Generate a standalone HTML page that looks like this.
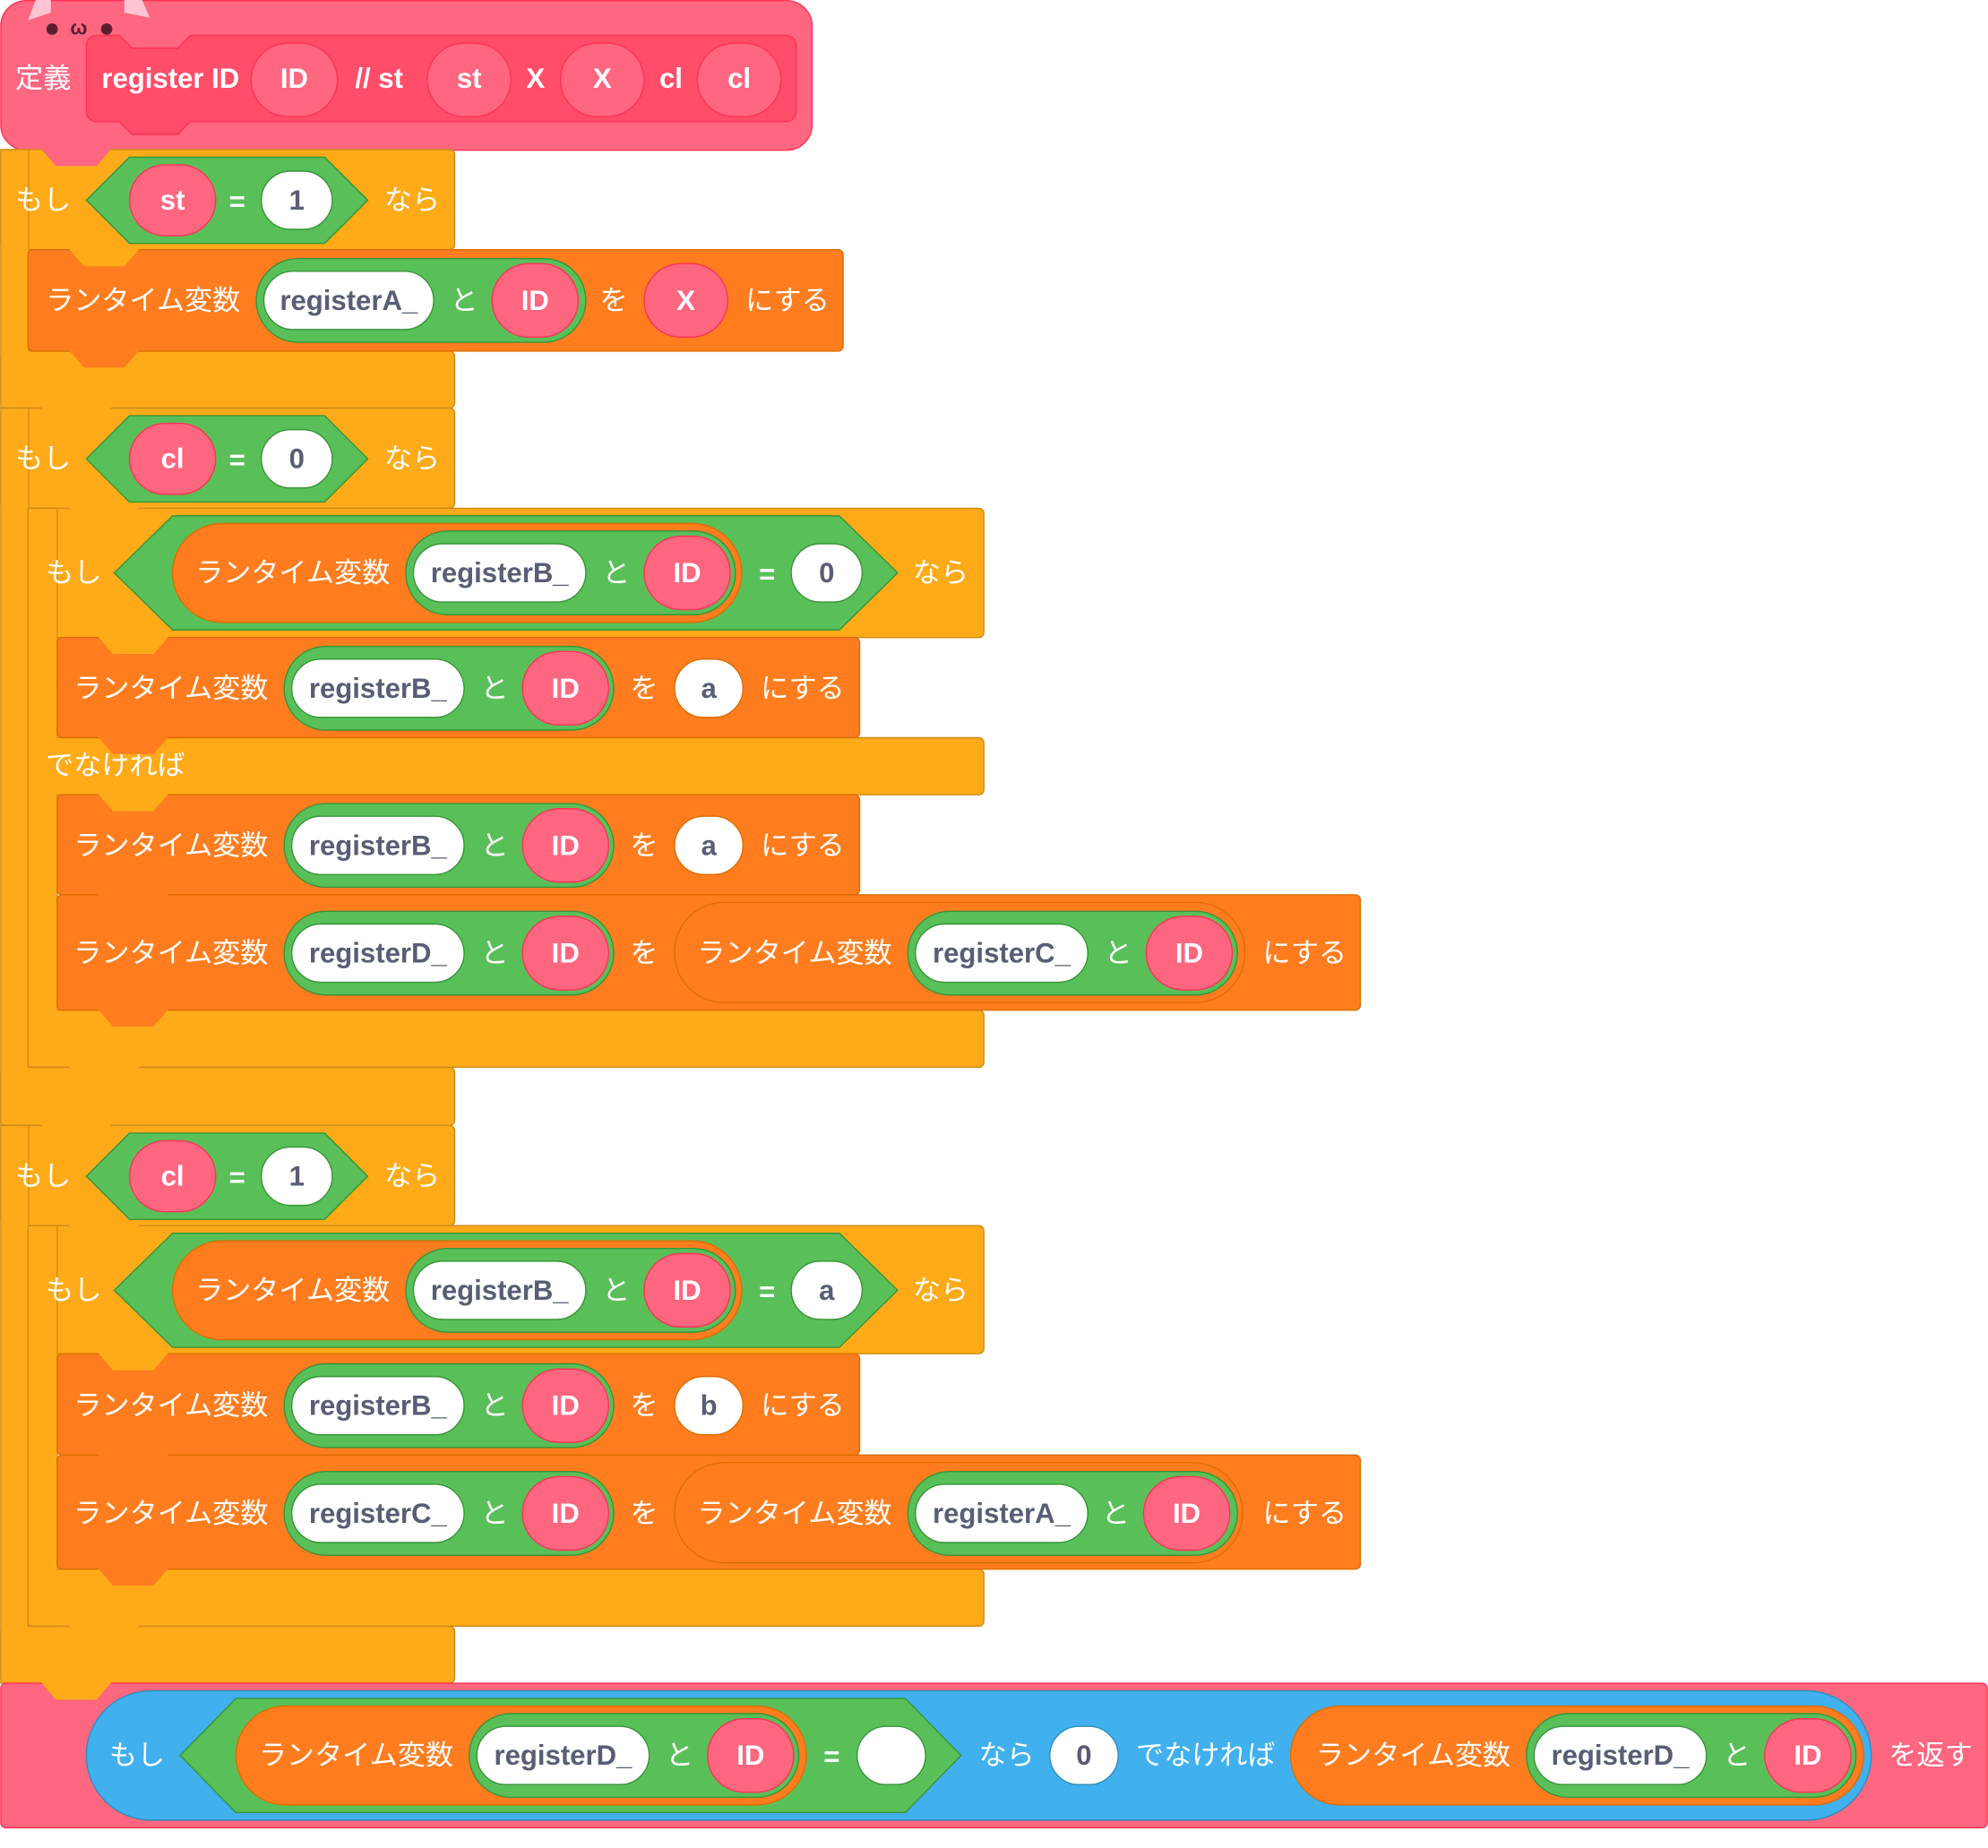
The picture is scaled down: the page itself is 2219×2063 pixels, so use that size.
<!DOCTYPE html>
<html><head><meta charset="utf-8"><style>
html,body{margin:0;padding:0;background:#fff}
svg{display:block}
text{font-family:"Liberation Sans","Noto Sans CJK JP",sans-serif;font-size:22px;fill:#fff;dominant-baseline:central}
.b{font-weight:bold}
.c{text-anchor:middle}
.d{fill:#575E75;font-weight:bold;text-anchor:middle}
.jp{font-size:22px}
</style></head><body>
<svg width="2219" height="2063" viewBox="0 0 1568 1458" xmlns="http://www.w3.org/2000/svg">
<defs>
<g id="setA"></g>
</defs>
<!-- HAT -->
<rect x="0.5" y="0.5" width="640" height="118" rx="20" fill="#FF6680" stroke="#FF3355"/>
<polygon points="22,16 28,0 40,0 40,10" fill="#FFC4D2"/>
<polygon points="98,10 98,0 112,0 118,14" fill="#FFC4D2"/>
<circle cx="41" cy="23" r="4.5" fill="#5a2030"/><circle cx="84" cy="23" r="4.5" fill="#5a2030"/>
<text x="62" y="22" style="fill:#5a2030;font-size:16px" class="c b">ω</text>
<path d="M68,36 a8,8 0 0 1 8,-8 h18 l10,10 h36 l10,-10 h470 a8,8 0 0 1 8,8 v52 a8,8 0 0 1 -8,8 h-470 l-10,10 h-36 l-10,-10 h-18 a8,8 0 0 1 -8,-8z" fill="#FF4D6A" stroke="#FF3355"/>
<text x="12" y="62">定義</text>
<text x="80" y="62" class="b">register ID</text>
<rect x="198" y="34" width="68" height="58" rx="29" fill="#FF6680" stroke="#FF3355"/><text x="232" y="62" class="b c">ID</text>
<text x="280" y="62" class="b">// st</text>
<rect x="337" y="34" width="66" height="58" rx="29" fill="#FF6680" stroke="#FF3355"/><text x="370" y="62" class="b c">st</text>
<text x="415" y="62" class="b">X</text>
<rect x="442" y="34" width="66" height="58" rx="29" fill="#FF6680" stroke="#FF3355"/><text x="475" y="62" class="b c">X</text>
<text x="520" y="62" class="b">cl</text>
<rect x="550" y="34" width="66" height="58" rx="29" fill="#FF6680" stroke="#FF3355"/><text x="583" y="62" class="b c">cl</text>

<!-- IF 1 -->
<g fill="#FFAB19" stroke="#CF8B17">
<rect x="0.5" y="118" width="358" height="79" rx="4"/>
<rect x="0.5" y="118" width="22" height="204"/>
<rect x="0.5" y="277" width="358" height="45" rx="4"/>
</g>
<rect x="1" y="119" width="21" height="202" fill="#FFAB19"/>
<text x="12" y="158">もし</text>
<polygon points="68,158 102,124 256,124 290,158 256,192 102,192" fill="#59C059" stroke="#389438"/>
<rect x="102" y="130" width="68" height="56" rx="28" fill="#FF6680" stroke="#FF3355"/><text x="136" y="158" class="b c">st</text>
<text x="187" y="159" class="b c">=</text>
<rect x="206" y="135" width="56" height="46" rx="23" fill="#fff" stroke="#389438"/><text x="234" y="158" class="d">1</text>
<text x="303" y="158">なら</text>
<!-- set 1 -->
<rect x="22" y="197" width="643" height="80" rx="4" fill="#FF7D1F" stroke="#DB6E00"/>
<text x="36" y="237">ランタイム変数</text>
<rect x="202" y="204" width="260" height="66" rx="33" fill="#59C059" stroke="#389438"/>
<rect x="208" y="214" width="134" height="46" rx="23" fill="#fff" stroke="#389438"/><text x="275" y="237" class="d">registerA_</text>
<text x="366" y="237" class="c">と</text>
<rect x="388" y="208" width="68" height="58" rx="29" fill="#FF6680" stroke="#FF3355"/><text x="422" y="237" class="b c">ID</text>
<text x="484" y="237" class="c">を</text>
<rect x="508" y="208" width="66" height="58" rx="29" fill="#FF6680" stroke="#FF3355"/><text x="541" y="237" class="b c">X</text>
<text x="588" y="237">にする</text>

<!-- IF 2 -->
<g fill="#FFAB19" stroke="#CF8B17">
<rect x="0.5" y="322" width="358" height="79" rx="4"/>
<rect x="0.5" y="322" width="22" height="566"/>
<rect x="0.5" y="842" width="358" height="46" rx="4"/>
</g>
<rect x="1" y="323" width="21" height="564" fill="#FFAB19"/>
<text x="12" y="362">もし</text>
<polygon points="68,362 102,328 256,328 290,362 256,396 102,396" fill="#59C059" stroke="#389438"/>
<rect x="102" y="334" width="68" height="56" rx="28" fill="#FF6680" stroke="#FF3355"/><text x="136" y="362" class="b c">cl</text>
<text x="187" y="363" class="b c">=</text>
<rect x="206" y="339" width="56" height="46" rx="23" fill="#fff" stroke="#389438"/><text x="234" y="362" class="d">0</text>
<text x="303" y="362">なら</text>
<!-- if-else -->
<g fill="#FFAB19" stroke="#CF8B17">
<rect x="22" y="401" width="754" height="102" rx="4"/>
<rect x="22" y="401" width="23" height="441"/>
<rect x="22" y="582" width="754" height="45" rx="4"/>
<rect x="22" y="797" width="754" height="45" rx="4"/>
</g>
<rect x="22.5" y="402" width="22" height="439" fill="#FFAB19"/>
<text x="36" y="452">もし</text>
<polygon points="90,452 136,407 662,407 708,452 662,497 136,497" fill="#59C059" stroke="#389438"/>
<rect x="136" y="413" width="449" height="78" rx="39" fill="#FF7D1F" stroke="#DB6E00"/>
<text x="154" y="452">ランタイム変数</text>
<rect x="320" y="419" width="260" height="66" rx="33" fill="#59C059" stroke="#389438"/>
<rect x="326" y="429" width="136" height="46" rx="23" fill="#fff" stroke="#389438"/><text x="394" y="452" class="d">registerB_</text>
<text x="486" y="452" class="c">と</text>
<rect x="508" y="423" width="68" height="58" rx="29" fill="#FF6680" stroke="#FF3355"/><text x="542" y="452" class="b c">ID</text>
<text x="605" y="453" class="b c">=</text>
<rect x="624" y="429" width="56" height="46" rx="23" fill="#fff" stroke="#389438"/><text x="652" y="452" class="d">0</text>
<text x="720" y="452">なら</text>
<text x="36" y="604">でなければ</text>
<!-- set B a -->
<g id="sb">
<rect x="45" y="503" width="633" height="79" rx="4" fill="#FF7D1F" stroke="#DB6E00"/>
<text x="58" y="543">ランタイム変数</text>
<rect x="224" y="510" width="260" height="66" rx="33" fill="#59C059" stroke="#389438"/>
<rect x="230" y="520" width="136" height="46" rx="23" fill="#fff" stroke="#389438"/><text x="298" y="543" class="d">registerB_</text>
<text x="390" y="543" class="c">と</text>
<rect x="412" y="514" width="68" height="58" rx="29" fill="#FF6680" stroke="#FF3355"/><text x="446" y="543" class="b c">ID</text>
<text x="508" y="543" class="c">を</text>
<rect x="532" y="520" width="54" height="46" rx="23" fill="#fff" stroke="#DB6E00"/><text x="559" y="543" class="d">a</text>
<text x="600" y="543">にする</text>
</g>
<use href="#sb" y="124"/>
<!-- set D = C -->
<rect x="45" y="706" width="1028" height="91" rx="4" fill="#FF7D1F" stroke="#DB6E00"/>
<text x="58" y="752">ランタイム変数</text>
<rect x="224" y="719" width="260" height="66" rx="33" fill="#59C059" stroke="#389438"/>
<rect x="230" y="729" width="136" height="46" rx="23" fill="#fff" stroke="#389438"/><text x="298" y="752" class="d">registerD_</text>
<text x="390" y="752" class="c">と</text>
<rect x="412" y="723" width="68" height="58" rx="29" fill="#FF6680" stroke="#FF3355"/><text x="446" y="752" class="b c">ID</text>
<text x="508" y="752" class="c">を</text>
<rect x="532" y="712" width="450" height="79" rx="39" fill="#FF7D1F" stroke="#DB6E00"/>
<text x="550" y="752">ランタイム変数</text>
<rect x="716" y="719" width="260" height="66" rx="33" fill="#59C059" stroke="#389438"/>
<rect x="722" y="729" width="136" height="46" rx="23" fill="#fff" stroke="#389438"/><text x="790" y="752" class="d">registerC_</text>
<text x="882" y="752" class="c">と</text>
<rect x="904" y="723" width="68" height="58" rx="29" fill="#FF6680" stroke="#FF3355"/><text x="938" y="752" class="b c">ID</text>
<text x="996" y="752">にする</text>

<!-- IF 3 -->
<g fill="#FFAB19" stroke="#CF8B17">
<rect x="0.5" y="888" width="358" height="79" rx="4"/>
<rect x="0.5" y="888" width="22" height="440"/>
<rect x="0.5" y="1283" width="358" height="45" rx="4"/>
</g>
<rect x="1" y="889" width="21" height="438" fill="#FFAB19"/>
<text x="12" y="928">もし</text>
<polygon points="68,928 102,894 256,894 290,928 256,962 102,962" fill="#59C059" stroke="#389438"/>
<rect x="102" y="900" width="68" height="56" rx="28" fill="#FF6680" stroke="#FF3355"/><text x="136" y="928" class="b c">cl</text>
<text x="187" y="929" class="b c">=</text>
<rect x="206" y="905" width="56" height="46" rx="23" fill="#fff" stroke="#389438"/><text x="234" y="928" class="d">1</text>
<text x="303" y="928">なら</text>
<g fill="#FFAB19" stroke="#CF8B17">
<rect x="22" y="967" width="754" height="101" rx="4"/>
<rect x="22" y="967" width="23" height="316"/>
<rect x="22" y="1238" width="754" height="45" rx="4"/>
</g>
<rect x="22.5" y="968" width="22" height="314" fill="#FFAB19"/>
<text x="36" y="1018">もし</text>
<polygon points="90,1018 136,973 662,973 708,1018 662,1063 136,1063" fill="#59C059" stroke="#389438"/>
<rect x="136" y="979" width="449" height="78" rx="39" fill="#FF7D1F" stroke="#DB6E00"/>
<text x="154" y="1018">ランタイム変数</text>
<rect x="320" y="985" width="260" height="66" rx="33" fill="#59C059" stroke="#389438"/>
<rect x="326" y="995" width="136" height="46" rx="23" fill="#fff" stroke="#389438"/><text x="394" y="1018" class="d">registerB_</text>
<text x="486" y="1018" class="c">と</text>
<rect x="508" y="989" width="68" height="58" rx="29" fill="#FF6680" stroke="#FF3355"/><text x="542" y="1018" class="b c">ID</text>
<text x="605" y="1019" class="b c">=</text>
<rect x="624" y="995" width="56" height="46" rx="23" fill="#fff" stroke="#389438"/><text x="652" y="1018" class="d">a</text>
<text x="720" y="1018">なら</text>
<rect x="45" y="1068" width="633" height="80" rx="4" fill="#FF7D1F" stroke="#DB6E00"/>
<text x="58" y="1109">ランタイム変数</text>
<rect x="224" y="1076" width="260" height="66" rx="33" fill="#59C059" stroke="#389438"/>
<rect x="230" y="1086" width="136" height="46" rx="23" fill="#fff" stroke="#389438"/><text x="298" y="1109" class="d">registerB_</text>
<text x="390" y="1109" class="c">と</text>
<rect x="412" y="1080" width="68" height="58" rx="29" fill="#FF6680" stroke="#FF3355"/><text x="446" y="1109" class="b c">ID</text>
<text x="508" y="1109" class="c">を</text>
<rect x="532" y="1086" width="54" height="46" rx="23" fill="#fff" stroke="#DB6E00"/><text x="559" y="1109" class="d">b</text>
<text x="600" y="1109">にする</text>
<rect x="45" y="1148" width="1028" height="90" rx="4" fill="#FF7D1F" stroke="#DB6E00"/>
<text x="58" y="1194">ランタイム変数</text>
<rect x="224" y="1161" width="260" height="66" rx="33" fill="#59C059" stroke="#389438"/>
<rect x="230" y="1171" width="136" height="46" rx="23" fill="#fff" stroke="#389438"/><text x="298" y="1194" class="d">registerC_</text>
<text x="390" y="1194" class="c">と</text>
<rect x="412" y="1165" width="68" height="58" rx="29" fill="#FF6680" stroke="#FF3355"/><text x="446" y="1194" class="b c">ID</text>
<text x="508" y="1194" class="c">を</text>
<rect x="532" y="1154" width="448" height="79" rx="39" fill="#FF7D1F" stroke="#DB6E00"/>
<text x="550" y="1194">ランタイム変数</text>
<rect x="716" y="1161" width="260" height="66" rx="33" fill="#59C059" stroke="#389438"/>
<rect x="722" y="1171" width="136" height="46" rx="23" fill="#fff" stroke="#389438"/><text x="790" y="1194" class="d">registerA_</text>
<text x="880" y="1194" class="c">と</text>
<rect x="902" y="1165" width="68" height="58" rx="29" fill="#FF6680" stroke="#FF3355"/><text x="936" y="1194" class="b c">ID</text>
<text x="996" y="1194">にする</text>

<!-- RETURN -->
<rect x="0.5" y="1328" width="1567" height="114" rx="4" fill="#FF6680" stroke="#FF3355"/>
<rect x="68" y="1334" width="1408" height="102" rx="51" fill="#40B0EE" stroke="#2E8EB8"/>
<text x="86" y="1385">もし</text>
<polygon points="142,1385 186,1340 714,1340 758,1385 714,1430 186,1430" fill="#59C059" stroke="#389438"/>
<rect x="186" y="1346" width="450" height="78" rx="39" fill="#FF7D1F" stroke="#DB6E00"/>
<text x="204" y="1385">ランタイム変数</text>
<rect x="370" y="1352" width="260" height="66" rx="33" fill="#59C059" stroke="#389438"/>
<rect x="376" y="1362" width="136" height="46" rx="23" fill="#fff" stroke="#389438"/><text x="444" y="1385" class="d">registerD_</text>
<text x="536" y="1385" class="c">と</text>
<rect x="558" y="1356" width="68" height="58" rx="29" fill="#FF6680" stroke="#FF3355"/><text x="592" y="1385" class="b c">ID</text>
<text x="656" y="1386" class="b c">=</text>
<rect x="676" y="1362" width="54" height="46" rx="23" fill="#fff" stroke="#389438"/>
<text x="772" y="1385">なら</text>
<rect x="828" y="1362" width="54" height="46" rx="23" fill="#fff" stroke="#2E8EB8"/><text x="855" y="1385" class="d">0</text>
<text x="896" y="1385">でなければ</text>
<rect x="1018" y="1346" width="452" height="78" rx="39" fill="#FF7D1F" stroke="#DB6E00"/>
<text x="1038" y="1385">ランタイム変数</text>
<rect x="1204" y="1352" width="260" height="66" rx="33" fill="#59C059" stroke="#389438"/>
<rect x="1210" y="1362" width="136" height="46" rx="23" fill="#fff" stroke="#389438"/><text x="1278" y="1385" class="d">registerD_</text>
<text x="1370" y="1385" class="c">と</text>
<rect x="1392" y="1356" width="68" height="58" rx="29" fill="#FF6680" stroke="#FF3355"/><text x="1426" y="1385" class="b c">ID</text>
<text x="1490" y="1385">を返す</text>

<!-- notch bumps -->
<g stroke-width="1">
<polygon points="32,117 44,131 76,131 88,117" fill="#FF6680"/>
<polygon points="54,196 66,210 98,210 110,196" fill="#FFAB19"/>
<polygon points="54,276 66,290 98,290 110,276" fill="#FF7D1F"/>
<polygon points="32,321 44,335 76,335 88,321" fill="#FFAB19"/>
<polygon points="54,400 66,414 98,414 110,400" fill="#FFAB19"/>
<polygon points="77,502 89,516 121,516 133,502" fill="#FFAB19"/>
<polygon points="77,581 89,595 121,595 133,581" fill="#FF7D1F"/>
<polygon points="77,626 89,640 121,640 133,626" fill="#FFAB19"/>
<polygon points="77,705 89,719 121,719 133,705" fill="#FF7D1F"/>
<polygon points="77,796 89,810 121,810 133,796" fill="#FF7D1F"/>
<polygon points="54,841 66,855 98,855 110,841" fill="#FFAB19"/>
<polygon points="32,887 44,901 76,901 88,887" fill="#FFAB19"/>
<polygon points="54,966 66,980 98,980 110,966" fill="#FFAB19"/>
<polygon points="77,1067 89,1081 121,1081 133,1067" fill="#FFAB19"/>
<polygon points="77,1147 89,1161 121,1161 133,1147" fill="#FF7D1F"/>
<polygon points="77,1237 89,1251 121,1251 133,1237" fill="#FF7D1F"/>
<polygon points="54,1282 66,1296 98,1296 110,1282" fill="#FFAB19"/>
<polygon points="32,1327 44,1341 76,1341 88,1327" fill="#FFAB19"/>
</g>
</svg>
</body></html>
